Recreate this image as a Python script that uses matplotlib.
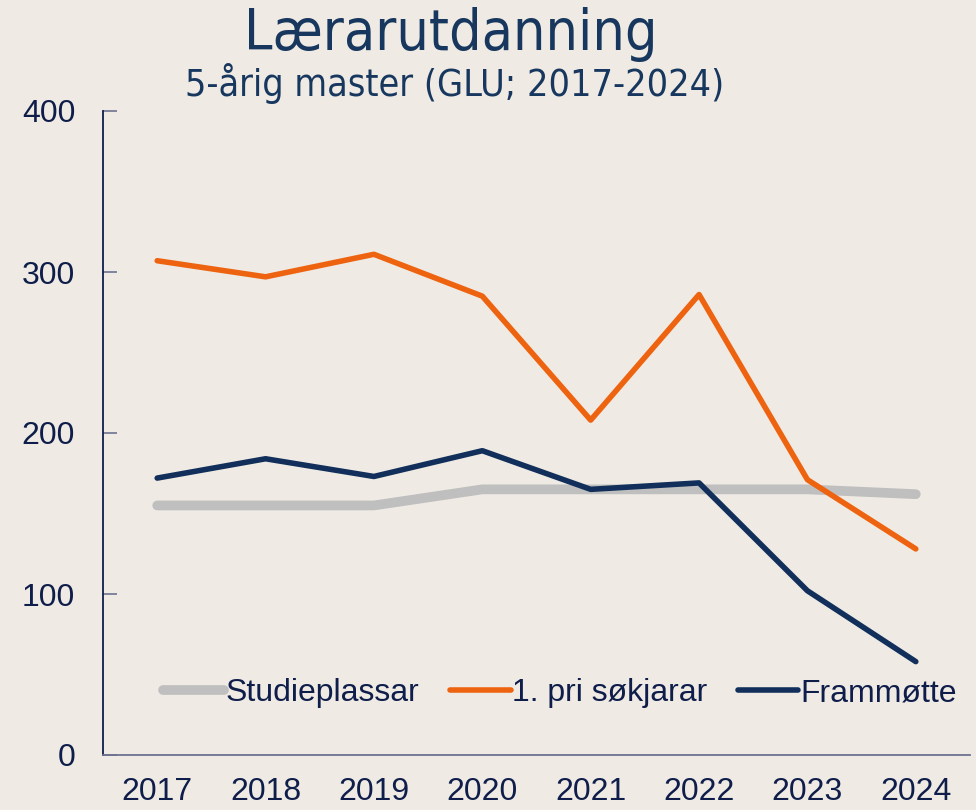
import matplotlib.pyplot as plt

years = ["2017", "2018", "2019", "2020", "2021", "2022", "2023", "2024"]
studieplassar = [155, 155, 155, 165, 165, 165, 165, 162]
sokjarar = [307, 297, 311, 285, 208, 286, 171, 128]
frammotte = [172, 184, 173, 189, 165, 169, 102, 58]

bg = "#efebe4"
navy_text = "#0f1d4a"
title_col = "#17375e"

plt.rcParams["font.family"] = ["Liberation Sans", "DejaVu Sans"]

fig = plt.figure(figsize=(9.76, 8.1), dpi=100, facecolor=bg)
ax = fig.add_axes([103 / 976, 1 - 755 / 810, (970 - 103) / 976, (755 - 111) / 810])
ax.set_facecolor(bg)

x = range(len(years))
ax.plot(x, studieplassar, color="#bfbfbf", lw=7, solid_capstyle="round",
        label="Studieplassar", zorder=2)
ax.plot(x, sokjarar, color="#ee630f", lw=4, solid_capstyle="round",
        label="1. pri søkjarar", zorder=3)
ax.plot(x, frammotte, color="#112f5a", lw=4, solid_capstyle="round",
        label="Frammøtte", zorder=4)

ax.set_xlim(-0.5, 7.5)
ax.set_ylim(0, 400)
ax.set_xticks(list(x))
ax.set_xticklabels(years)
ax.set_yticks([0, 100, 200, 300, 400])
ax.tick_params(axis="x", length=0, pad=16, labelsize=23, labelcolor=navy_text)
ax.tick_params(axis="y", direction="in", length=10, width=1.2, color="#6d7290",
               pad=20, labelsize=23, labelcolor=navy_text)

for side in ["top", "right"]:
    ax.spines[side].set_visible(False)
ax.spines["left"].set_color(navy_text)
ax.spines["left"].set_linewidth(1.3)
ax.spines["bottom"].set_color("#6d7290")
ax.spines["bottom"].set_linewidth(1.3)

ax.legend(loc="center", bbox_to_anchor=((560 - 103) / 867, (755 - 693) / 644), ncol=3,
          frameon=False, fontsize=23, handlelength=1.9, handletextpad=0.05,
          columnspacing=0.95, labelcolor=navy_text, borderaxespad=0)

fig.text(0.462, 1 - 34 / 810, "Lærarutdanning", ha="center", va="center",
         fontsize=41, color=title_col, family=["DejaVu Sans"], fontstretch="condensed")
fig.text(0.466, 1 - 84 / 810, "5-årig master (GLU; 2017-2024)", ha="center", va="center",
         fontsize=27, color=title_col, family=["DejaVu Sans"], fontstretch="condensed")

fig.savefig("out.png", dpi=100, facecolor=bg)
